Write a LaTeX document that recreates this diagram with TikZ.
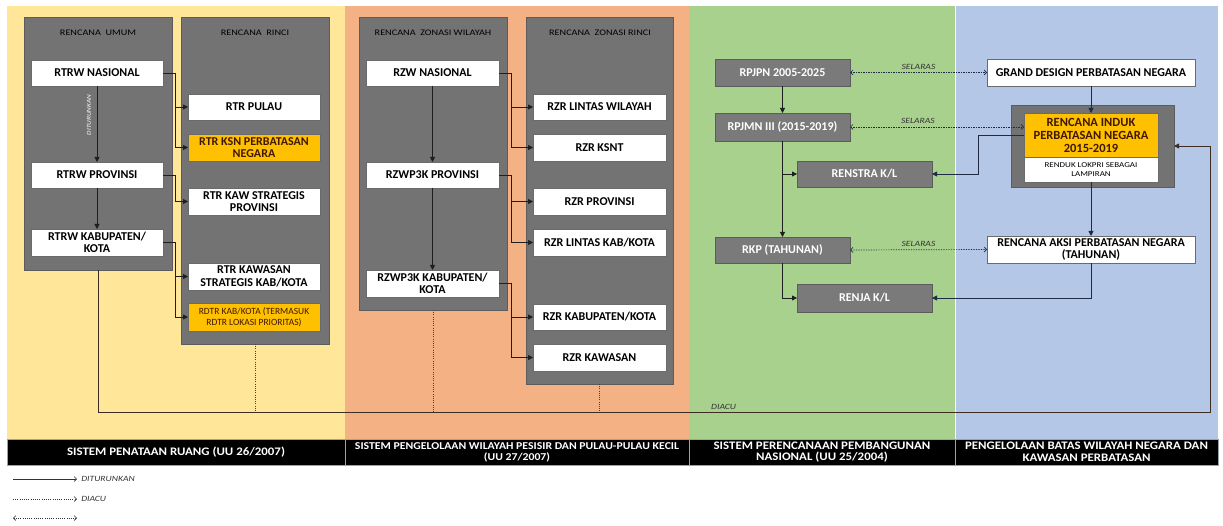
\documentclass[tikz,border=0pt]{standalone}
\usepackage{fontspec}
\setmainfont{Carlito}
\newfontfamily\widecarlito[FakeStretch=1.2]{Carlito}
\newfontfamily\barcarlito[FakeStretch=1.12]{Carlito}
\usetikzlibrary{arrows.meta}

\definecolor{bgruang}{HTML}{FFE699}
\definecolor{bgpesisir}{HTML}{F4B183}
\definecolor{bgrencana}{HTML}{A9D18E}
\definecolor{bgbatas}{HTML}{B4C7E7}
\definecolor{groupfill}{HTML}{737373}
\definecolor{groupline}{HTML}{5C5C5C}
\definecolor{planfill}{HTML}{7A7A7A}
\definecolor{amber}{HTML}{FFC000}
\definecolor{ambertext}{HTML}{3F1800}
\definecolor{boxline}{HTML}{6B6B6B}
\definecolor{linkcol}{HTML}{1E1E1E}
\definecolor{navylink}{HTML}{1F2B45}
\definecolor{refcol}{HTML}{3D2C22}
\definecolor{dotcol}{HTML}{5A3A28}
\definecolor{notecol}{HTML}{333333}
\definecolor{barsep}{HTML}{9AA3AD}

\newcommand\plantext{\bfseries\fontsize{12}{12.5}\selectfont}
\newcommand\smallplantext{\fontsize{9.5}{11}\selectfont}
\newcommand\lampirantext{\widecarlito\fontsize{7.5}{9}\selectfont}
\newcommand\titletext{\widecarlito\fontsize{8.5}{10}\selectfont}
\newcommand\notetext{\widecarlito\itshape\fontsize{8}{9}\selectfont}
\newcommand\bartext{\barcarlito\bfseries\fontsize{11.5}{11.8}\selectfont}

\tikzset{
  panelbg/.style={fill=#1, draw=none, anchor=north west, inner sep=0, outer sep=0},
  groupbox/.style={fill=groupfill, draw=groupline, line width=0.8pt, anchor=north west, inner sep=0, outer sep=0},
  grouptitle/.style={text=black, font=\titletext, inner sep=0},
  planbox/.style={fill=white, draw=boxline, line width=0.6pt, minimum width=132, minimum height=26,
    inner sep=0, outer sep=0, align=center, font=\plantext, text=black},
  amberbox/.style={planbox, fill=amber, text=ambertext},
  greybox/.style={planbox, fill=planfill, draw=groupline, text=white, minimum width=135, minimum height=27},
  link/.style={draw=linkcol, line width=0.8pt, -{Triangle[length=5pt,width=5pt]}},
  navy/.style={draw=navylink, line width=0.8pt, -{Triangle[length=5pt,width=5pt]}},
  selaras/.style={draw=navylink, line width=0.7pt, dash pattern=on 1.2pt off 1.3pt,
    {Straight Barb[length=2.5pt,width=5pt]}-{Straight Barb[length=2.5pt,width=5pt]}},
  refmain/.style={draw=refcol, line width=0.8pt},
  refdrop/.style={draw=dotcol, line width=0.7pt, dash pattern=on 1pt off 1.2pt},
  note/.style={font=\notetext, text=notecol, inner sep=1pt},
  barseg/.style={fill=black, draw=barsep, line width=0.6pt, anchor=north west, inner sep=0, outer sep=0,
    text=white, align=center, font=\bartext},
  legsolid/.style={draw=notecol, line width=0.6pt, -{Straight Barb[length=2.5pt,width=5pt]}},
  legdot/.style={draw=notecol, line width=0.6pt, dash pattern=on 1pt off 1.2pt, -{Straight Barb[length=2.5pt,width=5pt]}},
  legboth/.style={draw=notecol, line width=0.6pt, dash pattern=on 1pt off 1.2pt,
    {Straight Barb[length=2.5pt,width=5pt]}-{Straight Barb[length=2.5pt,width=5pt]}},
}

\begin{document}
\begin{tikzpicture}[x=1pt,y=-1pt]
\useasboundingbox (0,0) rectangle (1223,526);
\fill[white] (0,0) rectangle (1223,526);

% ---- system panels ----
\node[panelbg=bgruang,   minimum width=338, minimum height=433] (ruang)       at (7,6)   {};
\node[panelbg=bgpesisir, minimum width=344, minimum height=433] (pesisir)     at (345,6) {};
\node[panelbg=bgrencana, minimum width=266, minimum height=433] (pembangunan) at (689,6) {};
\node[panelbg=bgbatas,   minimum width=263, minimum height=433] (perbatasan)  at (955,6) {};
\draw[white, line width=0.8pt] (perbatasan.north west) -- (perbatasan.south west);

% ---- footer bar ----
\node[barseg, minimum width=338, minimum height=26] (bar1) at (7,439) {SISTEM PENATAAN RUANG (UU 26/2007)};
\node[barseg, minimum width=344, minimum height=26, font=\barcarlito\bfseries\fontsize{10.5}{11}\selectfont] (bar2) at (345,439)
  {SISTEM PENGELOLAAN WILAYAH PESISIR DAN PULAU-PULAU KECIL\\(UU 27/2007)};
\node[barseg, minimum width=266, minimum height=26] (bar3) at (689,439) {SISTEM PERENCANAAN PEMBANGUNAN\\NASIONAL (UU 25/2004)};
\node[barseg, minimum width=263, minimum height=26] (bar4) at (955,439) {PENGELOLAAN BATAS WILAYAH NEGARA DAN\\KAWASAN PERBATASAN};

% ---- spatial planning (UU 26/2007) ----
\node[groupbox, minimum width=148, minimum height=253] (umum)  at (24,17)  {};
\node[groupbox, minimum width=148, minimum height=327] (rinci) at (181,17) {};
\node[grouptitle] (umumtitle)  at (98,33)  {RENCANA\ \ UMUM};
\node[grouptitle] (rincititle) at (255,33) {RENCANA\ \ RINCI};

\node[planbox] (rtrwnas)  at (97,73)    {RTRW NASIONAL};
\node[planbox] (rtrwprov) at (97,175)   {RTRW PROVINSI};
\node[planbox, minimum height=27] (rtrwkab) at (97,242.5) {RTRW KABUPATEN/\\KOTA};

\node[planbox]  (rtrpulau)   at (254,107)   {RTR PULAU};
\node[amberbox, minimum height=27] (rtrksn) at (254,147.5) {\textcolor{ambertext}{RTR KSN PERBATASAN}\\\textcolor{ambertext}{NEGARA}};
\node[planbox, minimum height=27] (rtrkawprov) at (254,201.5) {RTR KAW STRATEGIS\\PROVINSI};
\node[planbox, minimum height=27] (rtrkawkab)  at (254,276.5) {RTR KAWASAN\\STRATEGIS KAB/KOTA};
\node[amberbox, minimum height=28, font=\smallplantext] (rdtr) at (254,317)
  {\textcolor{ambertext}{RDTR KAB/KOTA (TERMASUK}\\\textcolor{ambertext}{RDTR LOKASI PRIORITAS)}};

\draw[link] (rtrwnas.south)  -- (rtrwprov.north);
\draw[link] (rtrwprov.south) -- (rtrwkab.north);
\node[note, text=white, rotate=90, font=\widecarlito\itshape\fontsize{6}{7}\selectfont] (turunlabel) at (89,115) {DITURUNKAN};

\draw[link] (rtrwnas.east)  -- ++(12,0) |- (rtrpulau.west);
\draw[link] (rtrwnas.east)  -- ++(12,0) |- (rtrksn.west);
\draw[link] (rtrwprov.east) -- ++(12,0) |- (rtrkawprov.west);
\draw[link] (rtrwkab.east)  -- ++(12,0) |- (rtrkawkab.west);
\draw[link] (rtrwkab.east)  -- ++(12,0) |- (rdtr.west);

% ---- coastal zoning (UU 27/2007) ----
\node[groupbox, minimum width=148, minimum height=293] (zonwil)   at (359,17) {};
\node[groupbox, minimum width=147, minimum height=367] (zonrinci) at (526,17) {};
\node[grouptitle] (zonwiltitle)   at (433,33) {RENCANA\ \ ZONASI WILAYAH};
\node[grouptitle] (zonrincititle) at (600,33) {RENCANA\ \ ZONASI RINCI};

\node[planbox, minimum width=133] (rzwnas)  at (432.5,73)  {RZW NASIONAL};
\node[planbox, minimum width=133] (rzwprov) at (432.5,175) {RZWP3K PROVINSI};
\node[planbox, minimum width=133, minimum height=27] (rzwkab) at (432.5,283.5) {RZWP3K KABUPATEN/\\KOTA};

\node[planbox, minimum width=133] (rzrlintas)    at (599.5,107)   {RZR LINTAS WILAYAH};
\node[planbox, minimum width=133, minimum height=27] (rzrksnt) at (599.5,147.5) {RZR KSNT};
\node[planbox, minimum width=133, minimum height=27] (rzrprov) at (599.5,201.5) {RZR PROVINSI};
\node[planbox, minimum width=133, minimum height=27] (rzrlintaskab) at (599.5,242.5) {RZR LINTAS KAB/KOTA};
\node[planbox, minimum width=133] (rzrkab)       at (599.5,317)   {RZR KABUPATEN/KOTA};
\node[planbox, minimum width=133, minimum height=27] (rzrkawasan) at (599.5,357.5) {RZR KAWASAN};

\draw[link] (rzwnas.south)  -- (rzwprov.north);
\draw[link] (rzwprov.south) -- (rzwkab.north);
\draw[link] (rzwnas.east)  -- ++(12,0) |- (rzrlintas.west);
\draw[link] (rzwnas.east)  -- ++(12,0) |- (rzrksnt.west);
\draw[link] (rzwprov.east) -- ++(12,0) |- (rzrprov.west);
\draw[link] (rzwprov.east) -- ++(12,0) |- (rzrlintaskab.west);
\draw[link] (rzwkab.east)  -- ++(12,0) |- (rzrkab.west);
\draw[link] (rzwkab.east)  -- ++(12,0) |- (rzrkawasan.west);

% ---- national development planning (UU 25/2004) ----
\node[greybox] (rpjpn)   at (782.5,72.5) {RPJPN 2005-2025};
\node[greybox, minimum height=28] (rpjmn) at (782.5,127) {RPJMN III (2015-2019)};
\node[greybox, minimum height=26] (renstra) at (864.5,174) {RENSTRA K/L};
\node[greybox, minimum height=26] (rkp)     at (782.5,250) {RKP (TAHUNAN)};
\node[greybox, minimum height=28] (renja)   at (864.5,298) {RENJA K/L};

\draw[link] (rpjpn.south) -- (rpjmn.north);
\draw[link] (rpjmn.south) -- (rkp.north);
\draw[link] (rpjmn.south |- renstra.west) -- (renstra.west);
\draw[link] (rkp.south) |- (renja.west);

% ---- border area management ----
\node[planbox, minimum width=208, minimum height=27] (grand) at (1091,72.5) {GRAND DESIGN PERBATASAN NEGARA};
\node[groupbox, minimum width=163, minimum height=82] (indukgroup) at (1011,105) {};
\node[amberbox, minimum width=134, minimum height=44, font=\bfseries\fontsize{12.5}{13}\selectfont] (induk) at (1091,135)
  {\textcolor{ambertext}{RENCANA INDUK}\\\textcolor{ambertext}{PERBATASAN NEGARA}\\\textcolor{ambertext}{2015-2019}};
\node[planbox, minimum width=134, minimum height=25, font=\lampirantext] (lampiran) at (1091,169.5)
  {RENDUK LOKPRI SEBAGAI\\LAMPIRAN};
\node[planbox, minimum width=208, minimum height=27] (aksi) at (1091,249.5) {RENCANA AKSI PERBATASAN NEGARA\\(TAHUNAN)};

\draw[navy] (grand.south) -- (induk.north);
\draw[navy] (lampiran.south) -- (aksi.north);
\draw[navy] (induk.west) -- ++(-46,0) |- (renstra.east);
\draw[navy] (aksi.south) |- (renja.east);

% ---- alignment links ----
\draw[selaras] (rpjpn.east) -- (grand.west) node[midway, above=2pt, note] (selaras1) {SELARAS};
\draw[selaras] (rpjmn.east) -- (rpjmn.east -| induk.west) node[pos=0.39, above=2pt, note] (selaras2) {SELARAS};
\draw[selaras] (rkp.east) -- (aksi.west) node[midway, above=2pt, note] (selaras3) {SELARAS};

% ---- reference line ----
\coordinate (diacuR) at (1210,412);
\draw[refmain, -{Triangle[length=5pt,width=5pt]}] (umum.south) |- (diacuR) |- (indukgroup.east);
\node[note, anchor=south west] (diacuLabel) at (710,411) {DIACU};
\draw[refdrop] (rinci.south) -- (rinci.south |- diacuR);
\draw[refdrop] (zonwil.south) -- (zonwil.south |- diacuR);
\draw[refdrop] (zonrinci.south) -- (zonrinci.south |- diacuR);

% ---- legend ----
\coordinate (lgA1) at (13,479); \coordinate (lgA2) at (77,479);
\coordinate (lgB1) at (13,499); \coordinate (lgB2) at (77,499);
\coordinate (lgC1) at (13,518); \coordinate (lgC2) at (77,518);
\draw[legsolid] (lgA1) -- (lgA2) node[note, anchor=west, xshift=3pt] (lgAtext) {DITURUNKAN};
\draw[legdot]   (lgB1) -- (lgB2) node[note, anchor=west, xshift=3pt] (lgBtext) {DIACU};
\draw[legboth]  (lgC1) -- (lgC2);
\end{tikzpicture}
\end{document}
